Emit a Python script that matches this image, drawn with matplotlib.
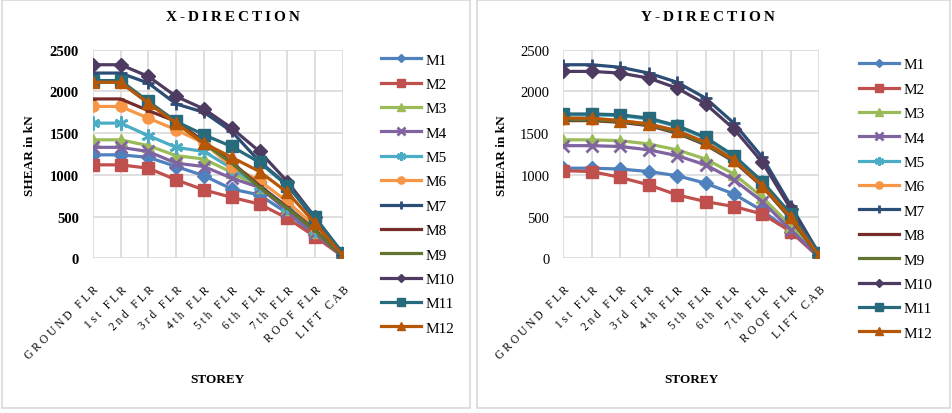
import matplotlib.pyplot as plt
from matplotlib.patches import Rectangle

storeys = ['GROUND FLR', '1st FLR', '2nd FLR', '3rd FLR', '4th FLR',
           '5th FLR', '6th FLR', '7th FLR', 'ROOF FLR', 'LIFT CAB']
series = ['M1', 'M2', 'M3', 'M4', 'M5', 'M6', 'M7', 'M8', 'M9', 'M10', 'M11', 'M12']

# X-direction storey shear (kN)
x_m1 = [1240, 1240, 1210, 1100, 990, 830, 760, 540, 280, 20]
x_m2 = [1120, 1120, 1080, 940, 820, 730, 650, 480, 260, 20]
x_m3 = [1420, 1420, 1350, 1230, 1190, 1030, 850, 590, 320, 20]
x_m4 = [1330, 1330, 1280, 1140, 1100, 960, 850, 570, 300, 20]
x_m5 = [1620, 1620, 1470, 1330, 1280, 1080, 870, 620, 340, 20]
x_m6 = [1820, 1820, 1680, 1540, 1380, 1100, 930, 680, 380, 20]
x_m7 = [2220, 2220, 2100, 1850, 1750, 1520, 1160, 880, 460, 30]
x_m8 = [1910, 1910, 1770, 1640, 1400, 1150, 870, 610, 340, 20]
x_m9 = [2110, 2110, 1860, 1620, 1380, 1140, 850, 600, 330, 20]
x_m10 = [2320, 2320, 2180, 1940, 1790, 1560, 1280, 920, 490, 40]
x_m11 = [2130, 2130, 1880, 1640, 1480, 1340, 1150, 870, 490, 60]
x_m12 = [2110, 2110, 1860, 1620, 1380, 1210, 1040, 790, 420, 30]

# Y-direction storey shear (kN)
y_m1 = [1080, 1080, 1070, 1040, 990, 900, 770, 570, 320, 10]
y_m2 = [1050, 1040, 970, 880, 760, 680, 620, 530, 320, 10]
y_m3 = [1420, 1420, 1410, 1370, 1300, 1190, 1010, 730, 390, 20]
y_m4 = [1350, 1350, 1340, 1300, 1230, 1120, 940, 680, 340, 15]
y_m5 = [1720, 1720, 1710, 1670, 1580, 1440, 1220, 910, 520, 50]
y_m6 = [1670, 1670, 1650, 1610, 1520, 1380, 1170, 860, 480, 25]
y_m7 = [2320, 2320, 2290, 2220, 2110, 1920, 1620, 1210, 630, 50]
y_m8 = [1650, 1650, 1630, 1590, 1500, 1360, 1160, 860, 470, 20]
y_m9 = [1660, 1660, 1640, 1600, 1510, 1370, 1170, 870, 480, 20]
y_m10 = [2240, 2240, 2220, 2160, 2040, 1850, 1550, 1150, 590, 40]
y_m11 = [1730, 1730, 1720, 1680, 1590, 1450, 1230, 920, 530, 60]
y_m12 = [1680, 1680, 1650, 1610, 1530, 1390, 1180, 870, 490, 30]

x_data = [x_m1, x_m2, x_m3, x_m4, x_m5, x_m6, x_m7, x_m8, x_m9, x_m10, x_m11, x_m12]
y_data = [y_m1, y_m2, y_m3, y_m4, y_m5, y_m6, y_m7, y_m8, y_m9, y_m10, y_m11, y_m12]

colors = ['#4F81BD', '#C0504D', '#9BBB59', '#8064A2', '#4BACC6', '#F79646',
          '#2C4D75', '#772C2A', '#5F7530', '#4D3B62', '#276A7C', '#B65708']
markers = ['D', 's', '^', 'x', (6, 2, 0), 'o', '+', '_', '_', 'D', 's', '^']
msizes = [7, 8, 8, 8, 10, 8, 9, 5, 5, 7, 8, 8]

serif = ['Liberation Serif', 'DejaVu Serif']
plt.rcParams['font.family'] = serif
TS = '\u2009'


def spaced(s, sep=TS):
    return sep.join(s)


fig = plt.figure(figsize=(9.52, 4.14), dpi=100)

# chart frames
for x0, w in [(0.002, 0.492), (0.501, 0.497)]:
    fig.patches.append(Rectangle((x0, 0.012), w, 0.985, transform=fig.transFigure,
                                 fill=False, edgecolor='#D9D9D9', lw=1.2))

panels = [
    ([0.0974, 0.3737, 0.2628, 0.5038], x_data, 'X-DIRECTION', 0.245, 'bold', 0.4005, 0.870, 0.032),
    ([0.5917, 0.3737, 0.2689, 0.5038], y_data, 'Y-DIRECTION', 0.744, 'normal', 0.9025, 0.858, 0.527),
]

idx = list(range(len(storeys)))
for rect, data, title, tx, tickw, lx, ly, ylx in panels:
    ax = fig.add_axes(rect)
    for i, vals in enumerate(data):
        thin = markers[i] in ('x', '+', '_') or isinstance(markers[i], tuple)
        ax.plot(idx, vals, color=colors[i], lw=2.3, marker=markers[i],
                markersize=msizes[i], markeredgewidth=2 if thin else 1,
                label=series[i])
    ax.set_xlim(0, len(storeys) - 1)
    ax.set_ylim(0, 2500)
    ax.set_yticks([0, 500, 1000, 1500, 2000, 2500])
    ax.set_xticks(idx)
    ax.set_xticklabels([spaced(s, ' ') for s in storeys], rotation=45, ha='right',
                       va='top', rotation_mode='anchor', fontsize=8.3)
    for lab in ax.get_yticklabels():
        lab.set_fontsize(10.5)
        lab.set_fontweight(tickw)
    ax.tick_params(length=0, pad=10)
    ax.tick_params(axis='x', pad=18)
    ax.grid(True, color='#D9D9D9', lw=1.2)
    ax.set_axisbelow(True)
    for sp in ax.spines.values():
        sp.set_visible(False)
    ax.set_xlabel('STOREY', fontsize=9.5, fontweight='bold')
    ax.xaxis.set_label_coords(0.5, -0.55)
    fig.text(ylx, 0.625, 'SHEAR in kN', rotation=90, ha='center', va='center',
             fontsize=9.5, fontweight='bold')
    fig.text(tx, 0.958, spaced(title), ha='center', va='center',
             fontsize=11, fontweight='bold')
    ax.legend(loc='upper left', bbox_to_anchor=(lx, ly), bbox_transform=fig.transFigure,
              frameon=False, fontsize=11, handlelength=2.6, handletextpad=0.3,
              labelspacing=0.70, markerscale=0.65, borderpad=0, borderaxespad=0)

fig.savefig('out.png', dpi=100)
